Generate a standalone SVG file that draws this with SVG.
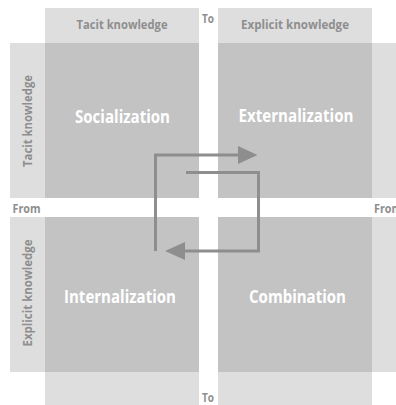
<svg xmlns="http://www.w3.org/2000/svg" width="396" height="405" viewBox="0 0 396 405">
  <defs>
    <style>
      .band { fill: #dedede; }
      .quad { fill: #c3c3c3; }
      .qlabel { font-family: "Open Sans", "Liberation Sans", sans-serif; font-weight: bold; font-size: 17px; fill: #ffffff; text-anchor: middle; }
      .blabel { font-family: "Open Sans", "Liberation Sans", sans-serif; font-weight: bold; font-size: 11.5px; fill: #8e8e8e; text-anchor: middle; }
      .dir { font-family: "Open Sans", "Liberation Sans", sans-serif; font-weight: bold; font-size: 12px; fill: #8e8e8e; }
      .conn { fill: none; stroke: #8e8e8e; stroke-width: 3; }
      .head { fill: #8e8e8e; }
    </style>
  </defs>
  <rect width="396" height="405" fill="#ffffff"/>

  <g id="bands">
    <rect class="band" x="45" y="8" width="154" height="35"/>
    <rect class="band" x="218" y="8" width="154" height="35"/>
    <rect class="band" x="10" y="43" width="35" height="155"/>
    <rect class="band" x="10" y="217" width="35" height="155"/>
    <rect class="band" x="372" y="43" width="24" height="155"/>
    <rect class="band" x="372" y="217" width="24" height="155"/>
    <rect class="band" x="45" y="372" width="154" height="33"/>
    <rect class="band" x="218" y="372" width="154" height="33"/>
  </g>

  <g id="band-labels">
    <text class="blabel" x="122" y="29" textLength="91" lengthAdjust="spacingAndGlyphs">Tacit knowledge</text>
    <text class="blabel" x="295" y="29" textLength="108" lengthAdjust="spacingAndGlyphs">Explicit knowledge</text>
    <text class="blabel" transform="translate(32 121) rotate(-90)" textLength="92" lengthAdjust="spacingAndGlyphs">Tacit knowledge</text>
    <text class="blabel" transform="translate(32 293) rotate(-90)" textLength="107" lengthAdjust="spacingAndGlyphs">Explicit knowledge</text>
    <text class="dir" x="202" y="22.5" textLength="12" lengthAdjust="spacingAndGlyphs">To</text>
    <text class="dir" x="202" y="402" textLength="12" lengthAdjust="spacingAndGlyphs">To</text>
    <text class="dir" x="12.5" y="212.5" textLength="28" lengthAdjust="spacingAndGlyphs">From</text>
    <text class="dir" x="374" y="212.5" textLength="28" lengthAdjust="spacingAndGlyphs">From</text>
  </g>

  <g id="socialization">
    <rect class="quad" x="45" y="43" width="154" height="155"/>
    <text class="qlabel" x="122.5" y="123" textLength="95" lengthAdjust="spacingAndGlyphs">Socialization</text>
  </g>
  <g id="externalization">
    <rect class="quad" x="218" y="43" width="154" height="155"/>
    <text class="qlabel" x="296" y="122" textLength="115" lengthAdjust="spacingAndGlyphs">Externalization</text>
  </g>
  <g id="internalization">
    <rect class="quad" x="45" y="217" width="154" height="155"/>
    <text class="qlabel" x="120" y="303" textLength="112" lengthAdjust="spacingAndGlyphs">Internalization</text>
  </g>
  <g id="combination">
    <rect class="quad" x="218" y="217" width="154" height="155"/>
    <text class="qlabel" x="297.5" y="303" textLength="97" lengthAdjust="spacingAndGlyphs">Combination</text>
  </g>

  <g id="connectors">
    <path class="conn" d="M155.5,251 V155 H240"/>
    <polygon class="head" points="257.5,155 238,146 238,164"/>
    <path class="conn" d="M186,172.5 H258.5 V251 H182"/>
    <polygon class="head" points="165,251 185,242 185,260"/>
  </g>
</svg>
